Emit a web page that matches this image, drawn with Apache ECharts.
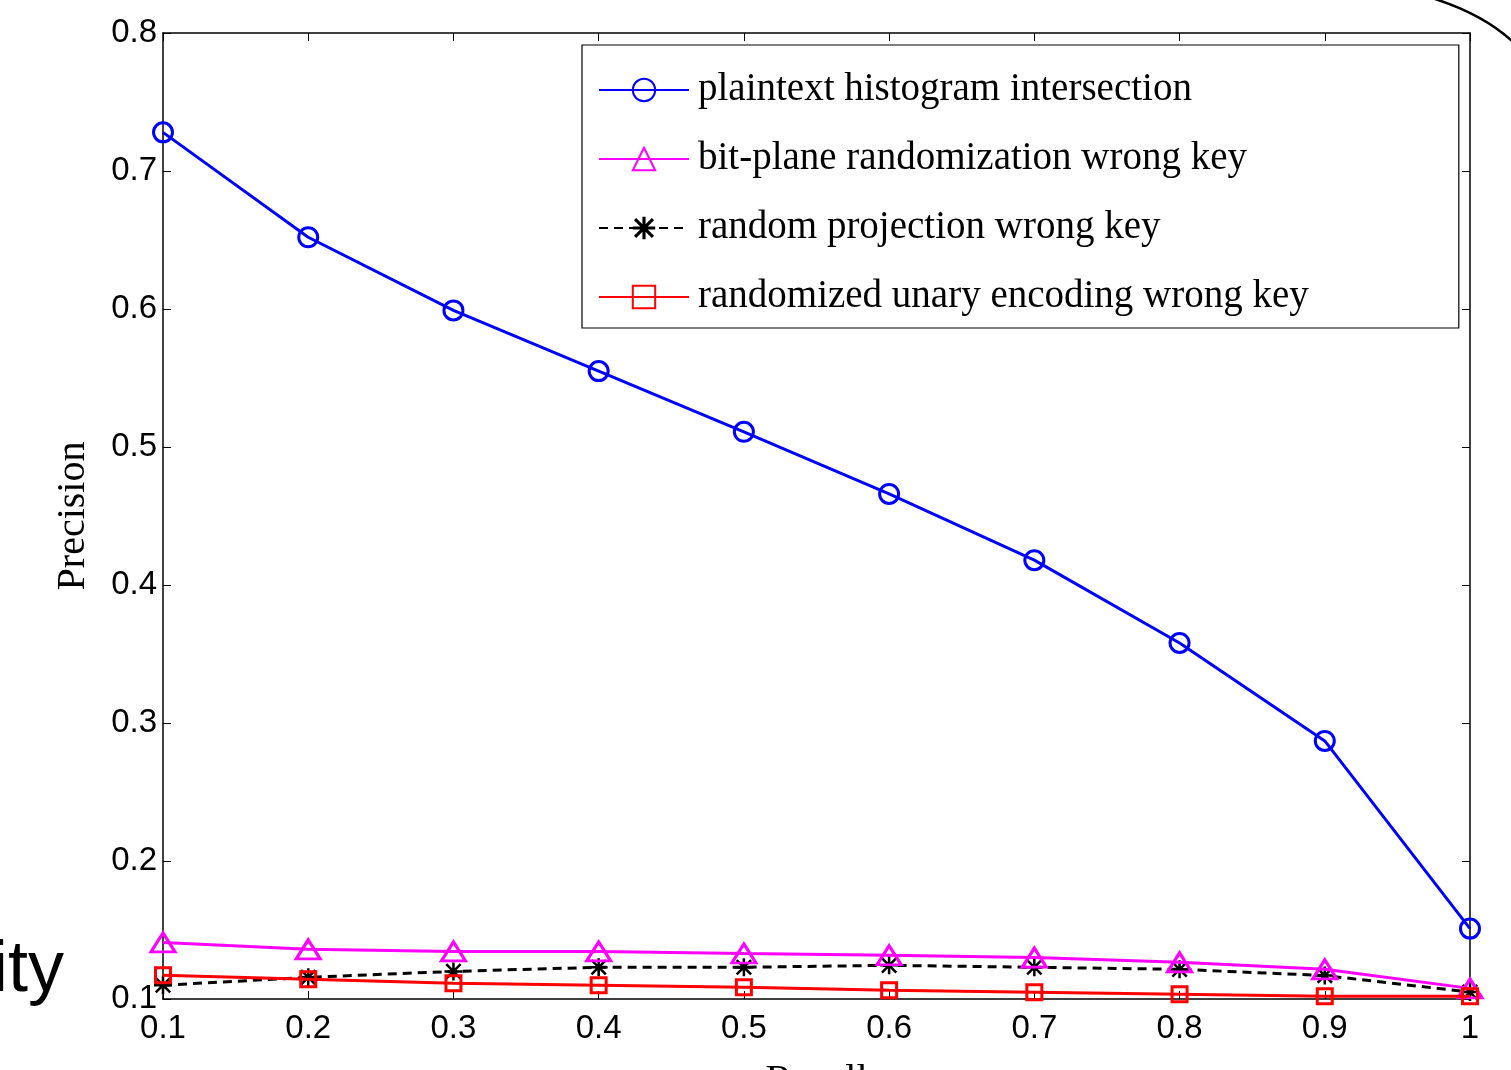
<!DOCTYPE html>
<html><head><meta charset="utf-8">
<script src="https://cdn.jsdelivr.net/npm/echarts@6/dist/echarts.min.js"></script>
<style>html,body{margin:0;padding:0;background:#fff}#c{width:1511px;height:1070px}</style>
</head><body><div id="c"></div>
<script>
const recall = [0.1,0.2,0.3,0.4,0.5,0.6,0.7,0.8,0.9,1.0];
const plaintextHist = [0.728,0.652,0.599,0.555,0.511,0.466,0.418,0.358,0.287,0.151];
const bitPlaneWrong = [0.141,0.136,0.1345,0.1345,0.133,0.1317,0.130,0.1266,0.1215,0.1077];
const randomProjWrong = [0.110,0.1157,0.120,0.123,0.123,0.1244,0.123,0.1215,0.117,0.105];
const unaryWrong = [0.1172,0.1143,0.1114,0.110,0.1085,0.1063,0.1049,0.1034,0.102,0.102];
const seriesNames = ['plaintext histogram intersection','bit-plane randomization wrong key','random projection wrong key','randomized unary encoding wrong key'];

const star = 'path://M4.3,0 L5.7,0 L5.7,4.3 L10,4.3 L10,5.7 L5.7,5.7 L5.7,10 L4.3,10 L4.3,5.7 L0,5.7 L0,4.3 L4.3,4.3 Z M1.5,0.5 L9.5,8.5 L8.5,9.5 L0.5,1.5 Z M8.5,0.5 L9.5,1.5 L1.5,9.5 L0.5,8.5 Z';
const clear = 'rgba(255,255,255,0)';
const pairs = a => recall.map((x,i)=>[x,a[i]]);
const tickFont = {fontFamily:'Liberation Sans, Arial', fontSize:33, color:'#000'};
const chart = echarts.init(document.getElementById('c'));
chart.setOption({
  animation:false,
  backgroundColor:'#fff',
  grid:{left:163,right:41,top:33,bottom:71,containLabel:false,outerBoundsMode:'none'},
  xAxis:[{type:'value',min:0.1,max:1,interval:0.1,position:'bottom',
    axisLine:{onZero:false,lineStyle:{color:'#000',width:1.5}},
    axisTick:{inside:true,length:8,lineStyle:{color:'#000'}},
    splitLine:{show:false},
    axisLabel:Object.assign({margin:13,formatter:v=>(Math.round(v*10)/10).toString()},tickFont),
    name:'Recall',nameLocation:'middle',nameGap:62,
    nameTextStyle:{fontFamily:'Liberation Serif, Times New Roman',fontSize:40,color:'#000'}},
    {type:'value',min:0.1,max:1,interval:0.1,position:'top',
    axisLine:{onZero:false,lineStyle:{color:'#000',width:1.5}},
    axisTick:{inside:true,length:8,lineStyle:{color:'#000'}},
    axisLabel:{show:false},splitLine:{show:false}}],
  yAxis:[{type:'value',min:0.1,max:0.8,interval:0.1,position:'left',
    axisLine:{show:true,onZero:false,lineStyle:{color:'#000',width:1.5}},
    axisTick:{show:true,inside:true,length:8,lineStyle:{color:'#000'}},
    splitLine:{show:false},
    axisLabel:Object.assign({margin:6,padding:[6,0,0,0],formatter:v=>(Math.round(v*10)/10).toString()},tickFont),
    name:'Precision',nameLocation:'middle',nameGap:70,
    nameTextStyle:{fontFamily:'Liberation Serif, Times New Roman',fontSize:40,color:'#000'}},
    {type:'value',min:0.1,max:0.8,interval:0.1,position:'right',
    axisLine:{show:true,onZero:false,lineStyle:{color:'#000',width:1.5}},
    axisTick:{show:true,inside:true,length:8,lineStyle:{color:'#000'}},
    axisLabel:{show:false},splitLine:{show:false}}],
  legend:{orient:'vertical',left:582,top:45,
    padding:[25,150,11,16],itemGap:29,itemWidth:90,itemHeight:28,
    backgroundColor:'#fff',borderColor:'#000',borderWidth:1.2,borderRadius:0,
    textStyle:{fontFamily:'Liberation Serif, Times New Roman',fontSize:39,color:'#000',lineHeight:40,padding:[0,0,0,4]},
    data:seriesNames},
  series:[
    {name:seriesNames[0],type:'line',data:pairs(plaintextHist),symbol:'circle',symbolSize:19,showAllSymbol:true,
      lineStyle:{color:'#0000ff',width:3},itemStyle:{color:clear,borderColor:'#0000ff',borderWidth:3},z:5},
    {name:seriesNames[1],type:'line',data:pairs(bitPlaneWrong),symbol:'triangle',symbolSize:[24,19],
      lineStyle:{color:'#ff00ff',width:3},itemStyle:{color:clear,borderColor:'#ff00ff',borderWidth:3},z:4},
    {name:seriesNames[2],type:'line',data:pairs(randomProjWrong),symbol:star,symbolSize:18,
      lineStyle:{color:'#000',width:3,type:[9,6]},itemStyle:{color:'#000'},z:3},
    {name:seriesNames[3],type:'line',data:pairs(unaryWrong),symbol:'rect',symbolSize:15,
      lineStyle:{color:'#ff0000',width:3},itemStyle:{color:clear,borderColor:'#ff0000',borderWidth:3},z:6}
  ],
  graphic:[
    {type:'text',left:-8,top:935,style:{text:'ity',fontFamily:'Liberation Sans, Arial',fontSize:72,fill:'#000'}},
    {type:'bezierCurve',shape:{x1:1432,y1:-2,cpx1:1470,cpy1:10,cpx2:1495,cpy2:25,x2:1513,y2:42},style:{stroke:'#000',lineWidth:2.5,fill:null}}
  ]
});
</script></body></html>
